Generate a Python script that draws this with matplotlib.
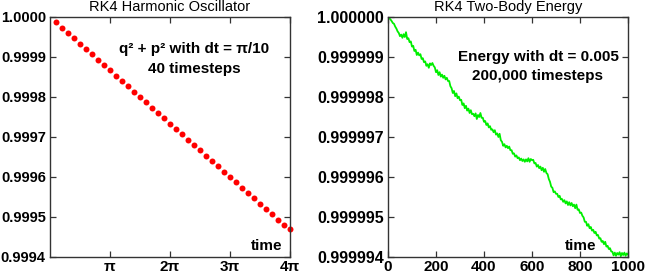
import numpy as np
import matplotlib
matplotlib.use("Agg")
import matplotlib.pyplot as plt
from matplotlib.ticker import StrMethodFormatter, FixedLocator, FixedFormatter

plt.rcParams['font.family'] = ['Liberation Sans', 'DejaVu Sans']

# ---------------- data ----------------
# Harmonic oscillator: q^2 + p^2 after each RK4 step (dt = pi/10, 40 steps)
ho_steps = np.arange(1, 41)
ho_dt = np.pi / 10
ho_values = [
    0.999987, 0.999973, 0.999960, 0.999947, 0.999933, 0.999920, 0.999907, 0.999893,
    0.999880, 0.999867, 0.999853, 0.999840, 0.999827, 0.999813, 0.999800, 0.999787,
    0.999773, 0.999760, 0.999747, 0.999733, 0.999720, 0.999707, 0.999693, 0.999680,
    0.999667, 0.999653, 0.999640, 0.999627, 0.999613, 0.999600, 0.999587, 0.999573,
    0.999560, 0.999547, 0.999533, 0.999520, 0.999507, 0.999493, 0.999480, 0.999469,
]
ho_xticks = [np.pi, 2 * np.pi, 3 * np.pi, 4 * np.pi]
ho_xticklabels = ["π", "2π", "3π", "4π"]
ho_yticks = [0.9994, 0.9995, 0.9996, 0.9997, 0.9998, 0.9999, 1.0000]

# Two-body energy: time samples every 5 time units, energy drop in parts per million
tb_time = np.arange(0, 1001, 5)
tb_drop_ppm = [
    0.00, 0.03, 0.06, 0.10, 0.15, 0.17, 0.24, 0.29, 0.36, 0.40,
    0.48, 0.44, 0.52, 0.43, 0.50, 0.38, 0.55, 0.53, 0.63, 0.61,
    0.74, 0.72, 0.85, 0.82, 0.95, 0.89, 0.96, 0.93, 1.05, 1.03,
    1.13, 1.11, 1.22, 1.18, 1.27, 1.16, 1.20, 1.15, 1.22, 1.26,
    1.38, 1.33, 1.45, 1.38, 1.49, 1.44, 1.52, 1.47, 1.56, 1.52,
    1.60, 1.60, 1.73, 1.78, 1.90, 1.85, 1.98, 1.91, 2.03, 1.99,
    2.08, 2.07, 2.20, 2.16, 2.28, 2.22, 2.34, 2.29, 2.40, 2.33,
    2.43, 2.42, 2.48, 2.41, 2.55, 2.45, 2.50, 2.40, 2.52, 2.52,
    2.62, 2.60, 2.70, 2.66, 2.76, 2.73, 2.82, 2.81, 2.88, 2.83,
    2.94, 2.91, 3.00, 2.92, 3.08, 3.12, 3.22, 3.18, 3.26, 3.22,
    3.28, 3.24, 3.33, 3.33, 3.42, 3.41, 3.49, 3.46, 3.53, 3.51,
    3.58, 3.54, 3.60, 3.56, 3.62, 3.56, 3.61, 3.53, 3.62, 3.55,
    3.58, 3.57, 3.66, 3.65, 3.74, 3.70, 3.78, 3.74, 3.83, 3.77,
    3.87, 3.80, 3.90, 3.93, 4.05, 4.12, 4.24, 4.27, 4.38, 4.36,
    4.42, 4.42, 4.50, 4.47, 4.56, 4.55, 4.62, 4.58, 4.66, 4.61,
    4.70, 4.63, 4.71, 4.65, 4.73, 4.69, 4.78, 4.69, 4.82, 4.81,
    4.90, 4.89, 4.97, 5.01, 5.12, 5.12, 5.22, 5.18, 5.28, 5.25,
    5.34, 5.32, 5.40, 5.37, 5.46, 5.45, 5.54, 5.53, 5.62, 5.60,
    5.68, 5.62, 5.74, 5.72, 5.80, 5.78, 5.86, 5.87, 5.96, 5.89,
    5.97, 5.90, 5.94, 5.88, 5.98, 5.90, 5.95, 5.89, 5.97, 5.91,
    5.94,
]
tb_xticks = [0, 200, 400, 600, 800, 1000]
tb_yticks = [0.999994, 0.999995, 0.999996, 0.999997, 0.999998, 0.999999, 1.000000]

# ---------------- figure ----------------
fig = plt.figure(figsize=(6.49, 2.77), dpi=100)
W, H = 649, 277
ax1 = fig.add_axes([50 / W, 20 / H, 240 / W, 240 / H])
ax2 = fig.add_axes([388 / W, 20 / H, 240 / W, 240 / H])

frame_color = "#333333"


def style(ax, ysize):
    for s in ax.spines.values():
        s.set_color(frame_color)
        s.set_linewidth(1.0)
    ax.tick_params(direction="in", length=4, width=0.9, color=frame_color,
                   top=True, right=True, pad=3)
    ax.tick_params(axis="x", pad=2)
    for lab in ax.get_xticklabels():
        lab.set_fontsize(11)
        lab.set_fontweight("bold")
    for lab in ax.get_yticklabels():
        lab.set_fontsize(ysize)
        lab.set_fontweight("bold")


# Left panel
ho_time = ho_steps * ho_dt
ax1.plot(ho_time, ho_values, linestyle="none", marker="o", markersize=4.3,
         color="#ff0000", markeredgewidth=0, clip_on=False)
ax1.set_xlim(0, 4 * np.pi)
ax1.set_ylim(0.9994, 1.0000)
ax1.xaxis.set_major_locator(FixedLocator(ho_xticks))
ax1.xaxis.set_major_formatter(FixedFormatter(ho_xticklabels))
ax1.yaxis.set_major_locator(FixedLocator(ho_yticks))
ax1.yaxis.set_major_formatter(StrMethodFormatter("{x:.4f}"))
style(ax1, 10.5)
ax1.set_title("RK4 Harmonic Oscillator", fontsize=10.5, pad=4)
ax1.text(0.6, 0.867, "q² + p² with dt = π/10", transform=ax1.transAxes,
         ha="center", va="center", fontsize=11, fontweight="bold")
ax1.text(0.6, 0.783, "40 timesteps", transform=ax1.transAxes,
         ha="center", va="center", fontsize=11, fontweight="bold")
ax1.text(0.97, 0.045, "time", transform=ax1.transAxes,
         ha="right", va="center", fontsize=11, fontweight="bold")

# Right panel
tb_energy = 1.0 - np.array(tb_drop_ppm) * 1e-6
ax2.plot(tb_time, tb_energy, color="#00ee00", linewidth=1.3)
ax2.set_xlim(0, 1000)
ax2.set_ylim(0.999994, 1.000000)
ax2.xaxis.set_major_locator(FixedLocator(tb_xticks))
ax2.yaxis.set_major_locator(FixedLocator(tb_yticks))
ax2.yaxis.set_major_formatter(StrMethodFormatter("{x:.6f}"))
style(ax2, 11.5)
ax2.set_title("RK4 Two-Body Energy", fontsize=10.5, pad=4)
ax2.text(0.625, 0.833, "Energy with dt = 0.005", transform=ax2.transAxes,
         ha="center", va="center", fontsize=11, fontweight="bold")
ax2.text(0.625, 0.754, "200,000 timesteps", transform=ax2.transAxes,
         ha="center", va="center", fontsize=11, fontweight="bold")
ax2.text(0.87, 0.045, "time", transform=ax2.transAxes,
         ha="right", va="center", fontsize=11, fontweight="bold")

fig.savefig("out.png", dpi=100)
